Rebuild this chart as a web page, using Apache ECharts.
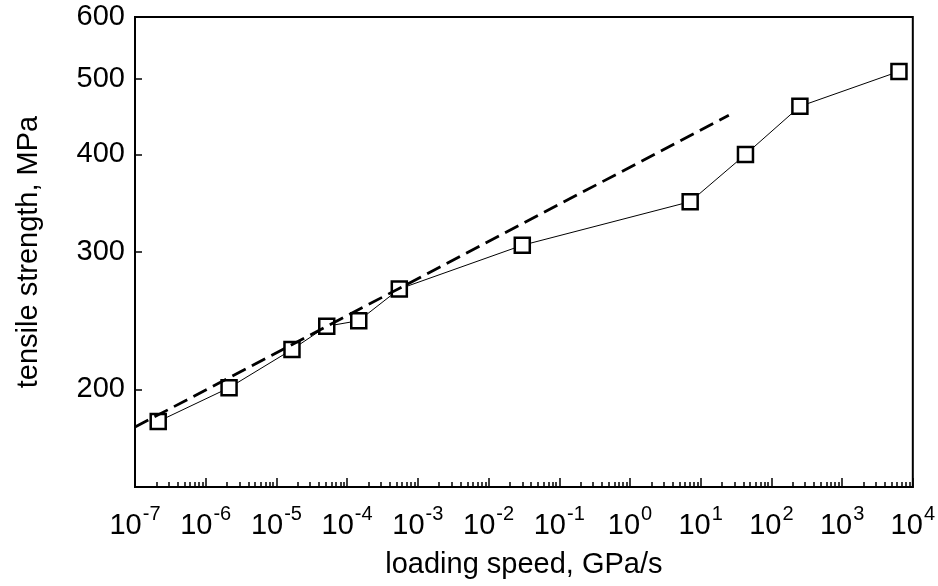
<!DOCTYPE html>
<html>
<head>
<meta charset="utf-8">
<script src="https://cdn.jsdelivr.net/npm/echarts@6/dist/echarts.min.js"></script>
<style>html,body{margin:0;padding:0;background:#fff;}#c{width:938px;height:586px;}</style>
</head>
<body>
<div id="c"></div>
<script>
// Data
var loadingSpeed = [2.13e-7, 2.14e-6, 1.66e-5, 5.15e-5, 1.46e-4, 5.47e-4, 0.030, 7.1, 43, 253, 6370]; // GPa/s
var tensileStrength = [182, 201, 225, 241, 245, 269, 306, 348, 400, 461, 511]; // MPa
var fitSpeed = [1e-7, 25];
var fitStrength = [179, 449];
var xDecades = [-7, -6, -5, -4, -3, -2, -1, 0, 1, 2, 3, 4];
var yTickLabels = [200, 300, 400, 500, 600];
var yMin = 150, yMax = 600;

var lg = Math.log10;
function pairs(xs, ys) { return xs.map(function (x, i) { return [lg(x), lg(ys[i])]; }); }

// minor tick positions (2..9 within each decade)
var minorTicks = [];
for (var d = -7; d < 4; d++) { for (var k = 2; k <= 9; k++) { minorTicks.push(lg(k) + d); } }

var FONT = '"Liberation Sans", Arial, sans-serif';
var chart = echarts.init(document.getElementById('c'), null, {renderer: 'canvas'});
chart.setOption({
  animation: false,
  backgroundColor: '#fff',
  grid: {left: 135, right: 23, top: 17, bottom: 99, show: true, borderColor: '#000', borderWidth: 2, backgroundColor: 'transparent'},
  xAxis: [{
    type: 'value', min: -7, max: 4, interval: 1,
    name: 'loading speed, GPa/s', nameLocation: 'middle', nameGap: 63,
    nameTextStyle: {fontSize: 29, color: '#000', fontFamily: FONT},
    axisLine: {show: true, onZero: false, lineStyle: {color: '#000', width: 2}},
    axisTick: {show: true, inside: true, length: 9, lineStyle: {color: '#000', width: 1.5}},
    splitLine: {show: false},
    axisLabel: {
      margin: 17,
      customValues: xDecades,
      formatter: function (v) { return '{b|10}{s|' + v + '}'; },
      rich: {
        b: {fontSize: 29, fontFamily: FONT, color: '#000', lineHeight: 36, verticalAlign: 'bottom'},
        s: {fontSize: 20, fontFamily: FONT, color: '#000', lineHeight: 36, verticalAlign: 'top', padding: [0, 0, 0, 1]}
      }
    }
  }, {
    type: 'value', min: -7, max: 4, position: 'bottom', gridIndex: 0,
    axisLine: {show: false, onZero: false},
    axisLabel: {show: false},
    splitLine: {show: false},
    axisTick: {show: true, inside: true, length: 5, customValues: minorTicks, lineStyle: {color: '#000', width: 1.5}}
  }],
  yAxis: {
    type: 'value', min: lg(yMin), max: lg(yMax),
    name: 'tensile strength, MPa', nameLocation: 'middle', nameGap: 92, nameRotate: 90,
    nameTextStyle: {fontSize: 29, color: '#000', fontFamily: FONT},
    axisLine: {show: true, onZero: false, lineStyle: {color: '#000', width: 2}},
    axisTick: {show: true, inside: true, length: 7, customValues: yTickLabels.map(lg), lineStyle: {color: '#000', width: 1.5}},
    splitLine: {show: false},
    axisLabel: {
      margin: 10, fontSize: 29, color: '#000', fontFamily: FONT,
      customValues: yTickLabels.map(lg),
      formatter: function (v) { return String(Math.round(Math.pow(10, v))); }
    }
  },
  series: [{
    type: 'line',
    data: pairs(loadingSpeed, tensileStrength),
    symbol: 'rect', symbolSize: 15,
    lineStyle: {color: '#000', width: 1},
    itemStyle: {color: '#fff', borderColor: '#000', borderWidth: 2.5},
    z: 2
  }, {
    type: 'line',
    data: pairs(fitSpeed, fitStrength),
    symbol: 'none',
    lineStyle: {color: '#000', width: 2.8, type: [15, 7]},
    z: 3
  }]
});
</script>
</body>
</html>
